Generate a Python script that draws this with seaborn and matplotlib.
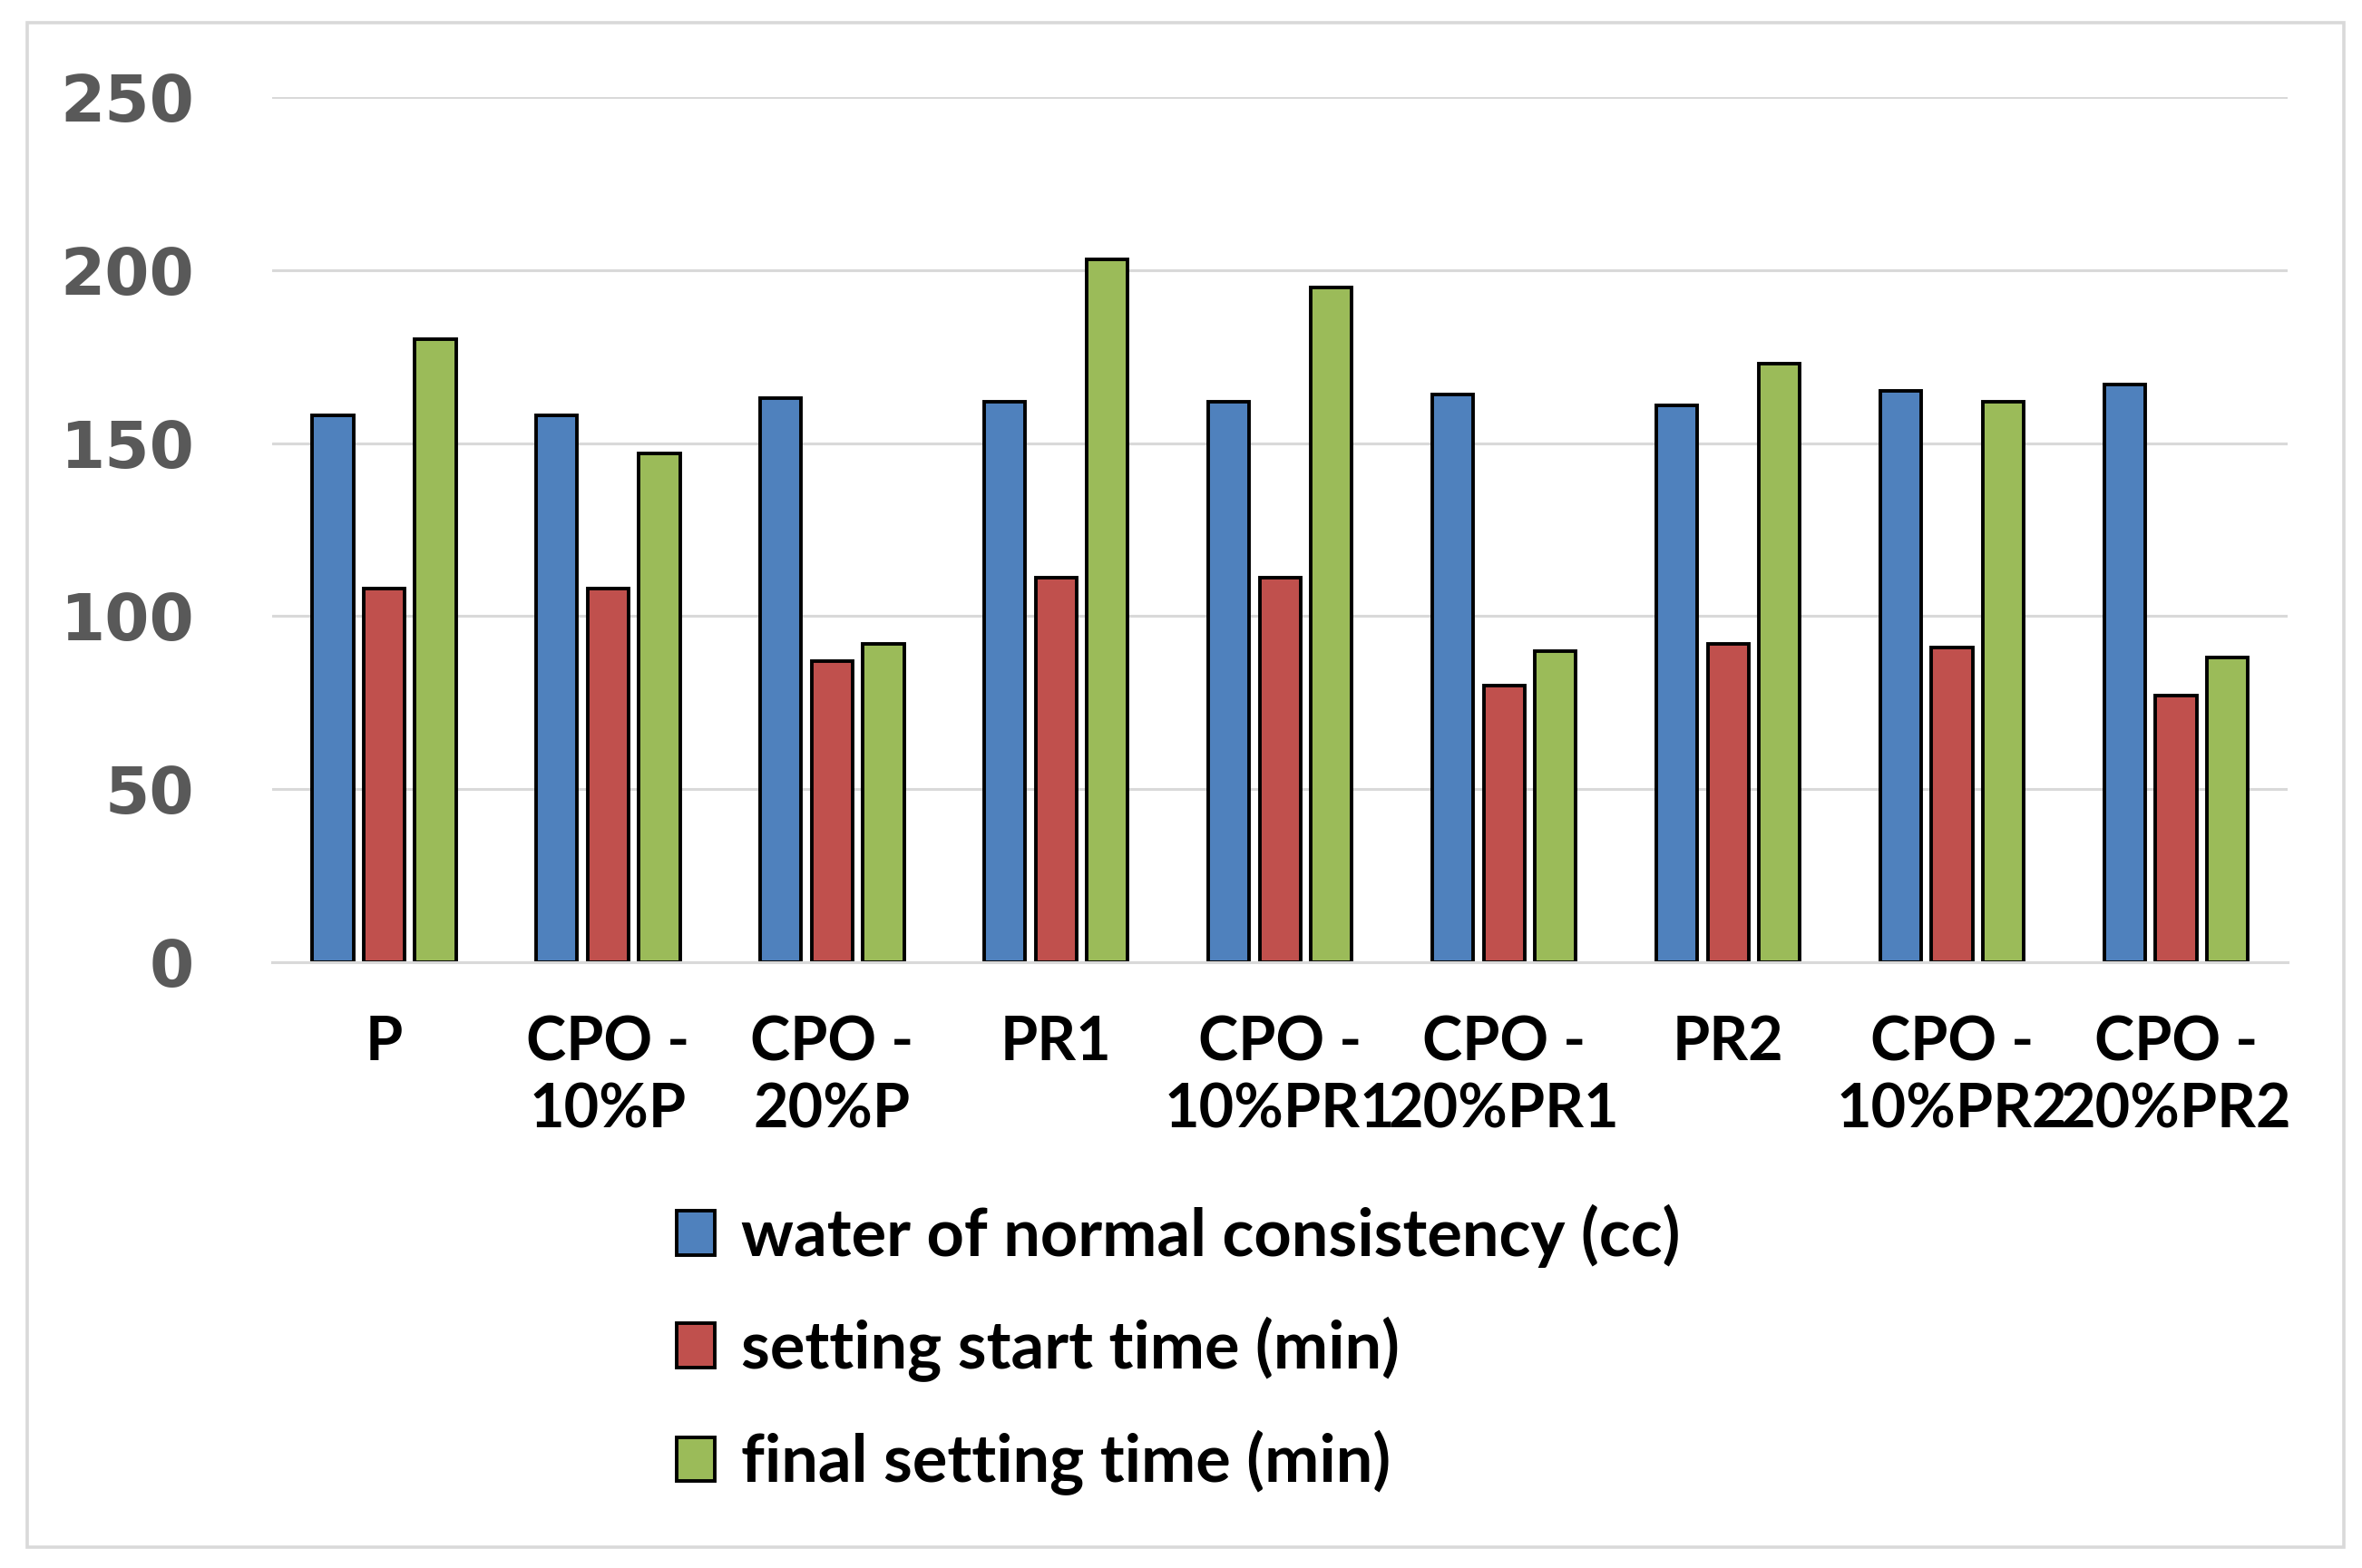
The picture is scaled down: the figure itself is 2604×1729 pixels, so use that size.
import numpy as np
import pandas as pd
import matplotlib
matplotlib.use("Agg")
import matplotlib.pyplot as plt
from matplotlib.patches import Rectangle
import seaborn as sns

# values
samples = ["P", "CPO -\n10%P", "CPO -\n20%P", "PR1", "CPO -\n10%PR1",
           "CPO -\n20%PR1", "PR2", "CPO -\n10%PR2", "CPO -\n20%PR2"]
water = [158, 158, 163, 162, 162, 164, 161, 165, 167]
start_time = [108, 108, 87, 111, 111, 80, 92, 91, 77]
final_time = [180, 147, 92, 203, 195, 90, 173, 162, 88]
series_names = ["water of normal consistency (cc)",
                "setting start time (min)",
                "final setting time (min)"]
colors = ["#4F81BD", "#C0504D", "#9BBB59"]
y_ticks = [0, 50, 100, 150, 200, 250]

df = pd.DataFrame({
    "sample": samples * 3,
    "property": [series_names[0]] * 9 + [series_names[1]] * 9 + [series_names[2]] * 9,
    "value": water + start_time + final_time,
})

sns.set_style("white")
plt.rcParams["font.family"] = ["DejaVu Sans"]
narrow = ["Lato", "DejaVu Sans"]

fig = plt.figure(figsize=(13.02, 8.645), dpi=200)
ax = fig.add_axes([0.1152, 0.3863, 0.8535, 0.5518])

sns.barplot(data=df, x="sample", y="value", hue="property", order=samples,
            hue_order=series_names, palette=colors, edgecolor="black",
            linewidth=1.4, width=0.687, gap=0.2, saturation=1, ax=ax)

ax.set_ylim(0, 250)
ax.set_xlim(-0.5, 8.5)
ax.set_yticks(y_ticks)
ax.set_yticklabels([str(t) for t in y_ticks], fontsize=25.5, fontweight="bold",
                   color="#595959")
ax.set_xticks(range(len(samples)))
ax.set_xticklabels(samples, fontsize=24, fontweight="bold", color="black",
                   family=narrow, linespacing=1.25)
ax.tick_params(axis="y", length=0, pad=31)
ax.tick_params(axis="x", length=0, pad=21)
ax.set_xlabel("")
ax.set_ylabel("")
ax.yaxis.grid(True, color="#D9D9D9", linewidth=1.1)
ax.set_axisbelow(True)
for s in ["top", "right", "left"]:
    ax.spines[s].set_visible(False)
ax.spines["bottom"].set_color("#D9D9D9")
ax.spines["bottom"].set_linewidth(1.1)

handles, labels = ax.get_legend_handles_labels()
ax.get_legend().remove()
leg = ax.legend(handles, labels, loc="upper left",
                bbox_to_anchor=(0.2865, 0.232), bbox_transform=fig.transFigure,
                frameon=False, borderpad=0, borderaxespad=0, handlelength=0.58,
                handleheight=0.66, handletextpad=0.4, labelspacing=0.74,
                labelcolor="black",
                prop={"family": narrow, "weight": "bold", "size": 26})

# light grey frame round the whole chart
fig.patches.append(Rectangle((30 / 2604, 1 - 1706 / 1729),
                             (2584 - 30) / 2604, (1706 - 25) / 1729,
                             transform=fig.transFigure, fill=False,
                             edgecolor="#D9D9D9", linewidth=1.3))

fig.savefig("out.png", dpi=200, facecolor="white")
